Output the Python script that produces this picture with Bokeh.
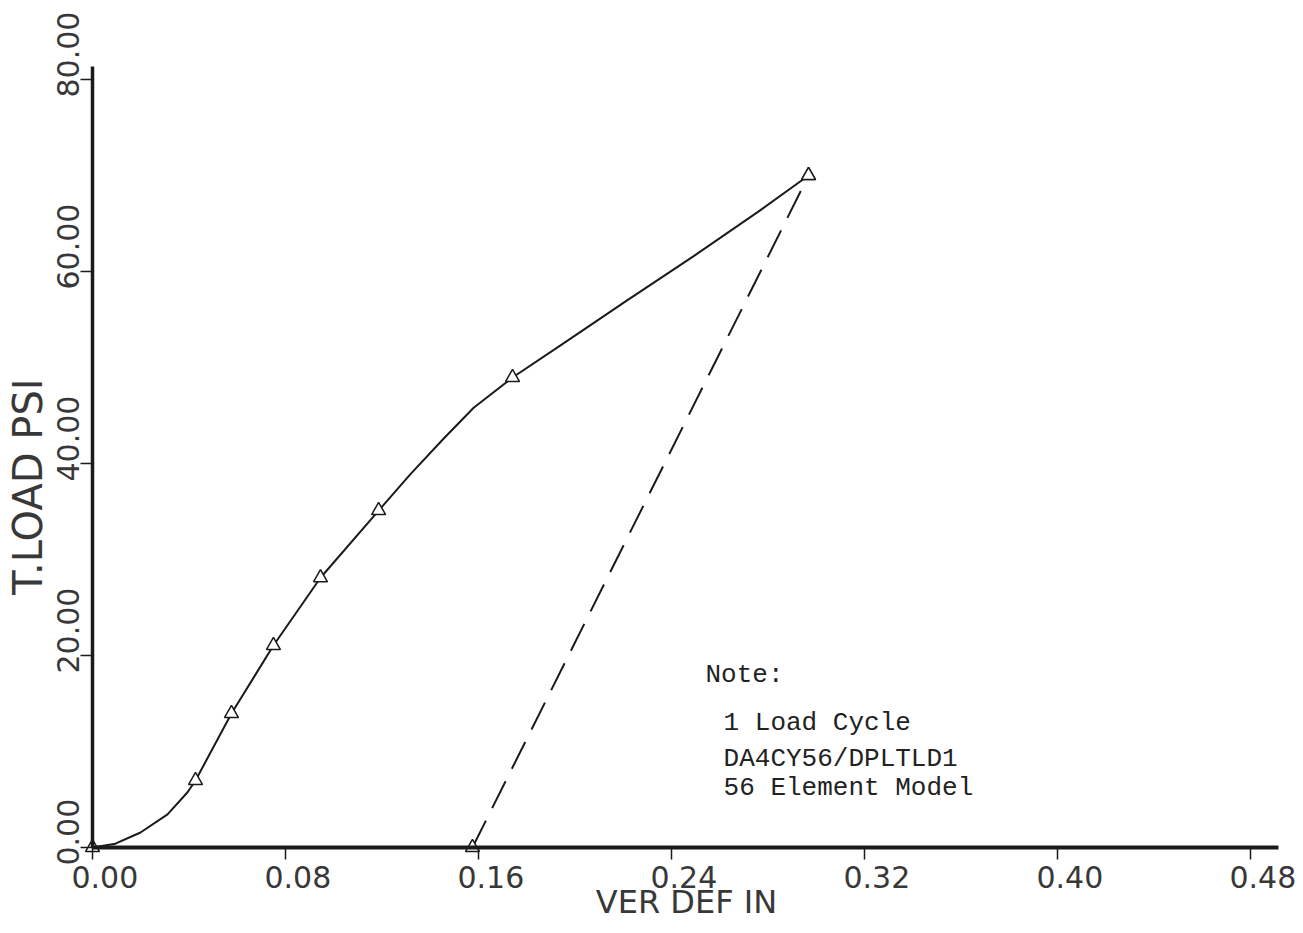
import math
from bokeh.plotting import figure
from bokeh.models import Range1d, LinearAxis, FixedTicker, Label, CustomJSTickFormatter
from bokeh.core.properties import value
from bokeh.embed import file_html
from bokeh.resources import INLINE

# ---- data ----
x_ticks = [0.00, 0.08, 0.16, 0.24, 0.32, 0.40, 0.48]
x_tick_labels = ["0.00", "0.08", "0.16", "0.24", "0.32", "0.40", "0.48"]
y_ticks = [0, 20, 40, 60, 80]
y_tick_labels = ["0.00", "20.00", "40.00", "60.00", "80.00"]

# loading curve: plotted points (triangles)
load_marker_x = [0.0, 0.0427, 0.0576, 0.0750, 0.0945, 0.1186, 0.1741, 0.2968]
load_marker_y = [0.0, 6.98, 13.96, 21.04, 28.1, 35.1, 48.96, 70.0]

# loading curve as traced on the picture
load_curve_x = [0.0, 0.0095, 0.0199, 0.0311, 0.0394, 0.0427, 0.0576, 0.0750,
                0.0945, 0.1186, 0.1318, 0.1456, 0.1580, 0.1741, 0.1940,
                0.2216, 0.2492, 0.2769, 0.2968]
load_curve_y = [0.0, 0.4, 1.56, 3.45, 5.76, 6.98, 13.96, 21.04,
                28.1, 35.1, 38.9, 42.6, 45.8, 48.96, 52.3,
                57.0, 61.6, 66.4, 70.0]

# unloading (dashed)
unload_x = [0.1575, 0.2968]
unload_y = [0.0, 70.0]

x_title = "VER DEF IN"
y_title = "T.LOAD PSI"
note_head = "Note:"
note_lines = ["1 Load Cycle", "DA4CY56/DPLTLD1", "56 Element Model"]
note_line_y = [12.92, 9.27, 6.15]

# ---- figure ----
TICK_FONT = value("DejaVu Sans")
INK = "#1a1a1a"
LABEL_INK = "#383838"

p = figure(width=1303, height=933, output_backend="svg", toolbar_location=None,
           x_axis_type=None, y_axis_type=None,
           x_range=Range1d(-0.038135, 0.50197), y_range=Range1d(-8.958, 88.229),
           min_border=0, outline_line_color=None,
           background_fill_color="white", border_fill_color="white")

xa = LinearAxis(fixed_location=0, bounds=(0, 0.4916),
                ticker=FixedTicker(ticks=x_ticks, minor_ticks=[]),
                formatter=CustomJSTickFormatter(code="return ''"),
                axis_line_width=4, axis_line_color=INK,
                major_tick_out=12, major_tick_in=0, major_tick_line_width=1.5,
                major_tick_line_color=INK,
                minor_tick_out=0, minor_tick_in=0)
p.add_layout(xa, "below")

ya = LinearAxis(fixed_location=0, bounds=(0, 81.4),
                ticker=FixedTicker(ticks=y_ticks, minor_ticks=[]),
                formatter=CustomJSTickFormatter(code="return ''"),
                axis_line_width=3.5, axis_line_color=INK,
                major_tick_out=12, major_tick_in=0, major_tick_line_width=1.5,
                major_tick_line_color=INK,
                minor_tick_out=0, minor_tick_in=0)
p.add_layout(ya, "left")

# tick labels
p.text(x=x_ticks, y=[0.0 for _ in x_ticks], text=x_tick_labels,
       x_offset=-21, y_offset=29, text_align="left", text_baseline="alphabetic",
       text_font=TICK_FONT, text_font_size="30px", text_color=LABEL_INK)
p.text(x=[0.0 for _ in y_ticks], y=y_ticks, text=y_tick_labels,
       angle=math.pi / 2, x_offset=-25, y_offset=18,
       text_align="left", text_baseline="alphabetic",
       text_font=TICK_FONT, text_font_size="30px", text_color=LABEL_INK)

# axis titles
p.add_layout(Label(x=0.2462, y=-5.7, text=x_title, text_align="center",
                   text_baseline="alphabetic", text_font="DejaVu Sans",
                   text_font_size="32px", text_color=LABEL_INK))
p.add_layout(Label(x=-0.0269, y=37.6, text=y_title, angle=math.pi / 2,
                   text_align="center", text_baseline="alphabetic",
                   text_font="DejaVu Sans", text_font_size="40px",
                   text_color=LABEL_INK))

# curves
p.line(load_curve_x, load_curve_y, line_color=INK, line_width=2,
       line_join="round")
p.line(unload_x, unload_y, line_color=INK, line_width=2, line_dash="30 14")
p.scatter(load_marker_x, load_marker_y, marker="triangle", size=14,
          fill_color="white", line_color=INK, line_width=1.5)
p.scatter(unload_x, unload_y, marker="triangle", size=14,
          fill_color="white", line_color=INK, line_width=1.5)

# note
p.add_layout(Label(x=0.2541, y=17.92, text=note_head, text_align="left",
                   text_baseline="alphabetic", text_font="Liberation Mono",
                   text_font_size="26px", text_color="#222222"))
for line, ly in zip(note_lines, note_line_y):
    p.add_layout(Label(x=0.2616, y=ly, text=line, text_align="left",
                       text_baseline="alphabetic", text_font="Liberation Mono",
                       text_font_size="26px", text_color="#222222"))

open("out.html", "w").write(file_html(p, INLINE))
